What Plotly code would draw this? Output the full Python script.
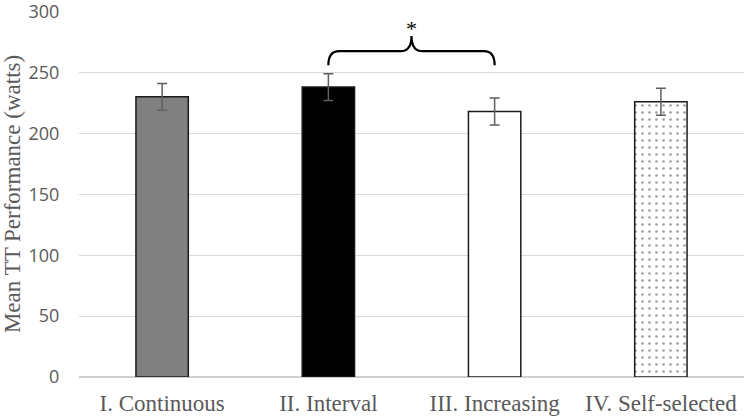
import plotly.graph_objects as go

categories = ["I. Continuous", "II. Interval", "III. Increasing", "IV. Self-selected"]
means = [230, 238, 218, 226]
errors = [11, 11, 11, 11]
fill_colors = ["#808080", "#000000", "#ffffff", "#ffffff"]
patterns = ["", "", "", "."]
y_ticks = [0, 50, 100, 150, 200, 250, 300]

# significance bracket between group II and III
sig_pair = (1, 2)
sig_base = 256
sig_mid = 267.5
sig_peak = 280
sig_label = "*"

x = list(range(len(categories)))

fig = go.Figure()
fig.add_trace(go.Bar(
    x=x, y=means,
    marker=dict(
        color=fill_colors,
        line=dict(color="#1a1a1a", width=1.5),
        pattern=dict(shape=patterns, fgcolor="#17689e", size=7, solidity=0.12, bgcolor="#ffffff"),
    ),
    error_y=dict(type="data", array=errors, color="#5f5f5f", thickness=1.5, width=5),
    width=0.315,
    hoverinfo="skip",
))

a, b = sig_pair
m = (a + b) / 2
r = 0.065
path = (f"M {a},{sig_base} Q {a},{sig_mid} {a+r},{sig_mid} L {m-r},{sig_mid} "
        f"Q {m},{sig_mid} {m},{sig_peak} Q {m},{sig_mid} {m+r},{sig_mid} "
        f"L {b-r},{sig_mid} Q {b},{sig_mid} {b},{sig_base}")
fig.add_shape(type="path", path=path, xref="x", yref="y",
              line=dict(color="#000000", width=2.2))
fig.add_annotation(x=m, y=sig_peak + 2, text=sig_label, showarrow=False,
                   yanchor="bottom", font=dict(family="Liberation Serif", size=22, color="#000"),
                   yshift=-9)

fig.update_layout(
    width=744, height=418,
    margin=dict(l=79, r=0, t=11, b=41, autoexpand=False),
    paper_bgcolor="white", plot_bgcolor="white",
    showlegend=False,
    xaxis=dict(
        tickvals=x, ticktext=categories, range=[-0.5, 3.5],
        showgrid=False, zeroline=False, showline=False, automargin=False,
        ticks="outside", ticklen=5, tickcolor="rgba(0,0,0,0)",
        tickfont=dict(family="Liberation Serif", size=23, color="#595959"),
    ),
    yaxis=dict(
        range=[0, 300.5], tickvals=y_ticks, automargin=False,
        showgrid=True, gridcolor="#d9d9d9", gridwidth=1,
        zeroline=True, zerolinecolor="#d0d0d0", zerolinewidth=1.5,
        ticks="outside", ticklen=15, tickcolor="rgba(0,0,0,0)",
        ticklabeloverflow="allow",
        tickfont=dict(family="Open Sans", size=18, color="#595959"),
        title=dict(text="Mean TT Performance (watts)",
                   font=dict(family="Liberation Serif", size=23, color="#595959"),
                   standoff=3),
    ),
)

fig.write_html("out.html")
